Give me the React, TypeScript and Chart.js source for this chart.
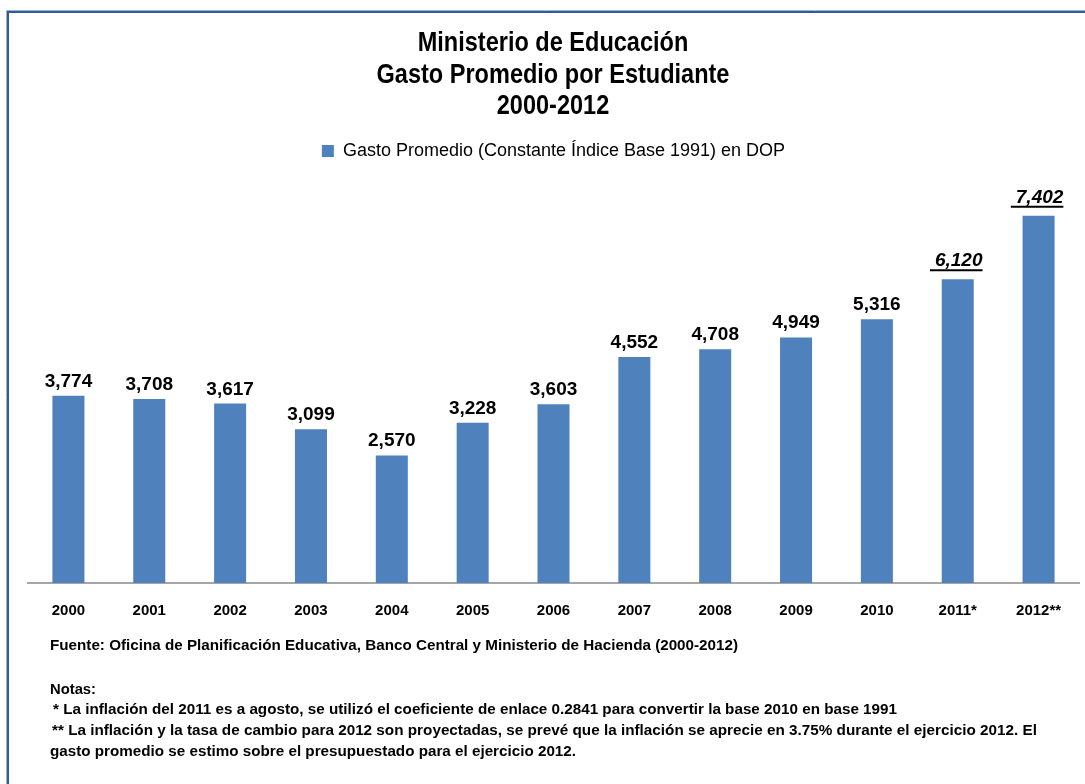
import { useEffect, useRef } from 'react';
import { Chart, registerables } from 'chart.js';

Chart.register(...registerables);

// ---- data ----
const categories = ['2000', '2001', '2002', '2003', '2004', '2005', '2006', '2007', '2008', '2009', '2010', '2011*', '2012**'];
const gastoPromedio = [3774, 3708, 3617, 3099, 2570, 3228, 3603, 4552, 4708, 4949, 5316, 6120, 7402];
const titleLines = ['Ministerio de Educación', 'Gasto Promedio por Estudiante', '2000-2012'];
const seriesName = 'Gasto Promedio (Constante Índice Base 1991) en DOP';
const sourceLine = 'Fuente: Oficina de Planificación Educativa, Banco Central y Ministerio de Hacienda (2000-2012)';
const noteLines = [
  'Notas:',
  '* La inflación del 2011 es a agosto, se utilizó el coeficiente de enlace 0.2841 para convertir la base 2010 en base 1991',
  '** La inflación y la tasa de cambio para 2012 son proyectadas, se prevé que la inflación se aprecie en 3.75% durante el ejercicio 2012. El',
  'gasto promedio se estimo sobre el presupuestado para el ejercicio 2012.',
];
const yAxisMax = 8000;

const SANS = "'Liberation Sans', Arial, sans-serif";
const BAR_COLOR = '#4F81BD';

const fmt = (v: number) => v.toLocaleString('en-US');
const isEstimate = (label: string) => label.includes('*');

const backgroundPlugin = {
  id: 'bgFrame',
  beforeDraw(chart: any) {
    const { ctx, width, height } = chart;
    ctx.save();
    ctx.fillStyle = '#ffffff';
    ctx.fillRect(0, 0, width, height);
    ctx.strokeStyle = '#9DB3D6';
    ctx.lineWidth = 1;
    ctx.beginPath();
    ctx.moveTo(6.5, height);
    ctx.lineTo(6.5, 10.5);
    ctx.lineTo(width, 10.5);
    ctx.stroke();
    ctx.strokeStyle = '#2F5B97';
    ctx.lineWidth = 2;
    ctx.beginPath();
    ctx.moveTo(8, height);
    ctx.lineTo(8, 12);
    ctx.lineTo(width, 12);
    ctx.stroke();
    ctx.restore();
  },
};

// Condensed bold title (Arial Narrow look)
const titlePlugin = {
  id: 'narrowTitle',
  afterDraw(chart: any) {
    const { ctx } = chart;
    ctx.save();
    ctx.fillStyle = '#000';
    ctx.textAlign = 'center';
    ctx.textBaseline = 'middle';
    ctx.font = `bold 28px ${SANS}`;
    const ys = [43, 75, 106];
    titleLines.forEach((line, i) => {
      const w = ctx.measureText(line).width;
      ctx.fillText(line, 553, ys[i], w * 0.84);
    });
    ctx.restore();
  },
};

const valueLabelPlugin = {
  id: 'valueLabels',
  afterDatasetsDraw(chart: any) {
    const { ctx } = chart;
    const meta = chart.getDatasetMeta(0);
    const labels = chart.data.labels as string[];
    const data = chart.data.datasets[0].data as number[];
    ctx.save();
    ctx.fillStyle = '#000';
    ctx.strokeStyle = '#000';
    ctx.textAlign = 'center';
    ctx.textBaseline = 'alphabetic';
    meta.data.forEach((bar: any, i: number) => {
      const text = fmt(data[i]);
      if (isEstimate(labels[i])) {
        ctx.font = `italic bold 19px ${SANS}`;
        const w = ctx.measureText(text).width;
        const baseY = bar.y - 13;
        ctx.fillText(text, bar.x + 1, baseY);
        ctx.lineWidth = 2;
        ctx.beginPath();
        ctx.moveTo(bar.x + 1 - w / 2 - 5, baseY + 4);
        ctx.lineTo(bar.x + 1 + w / 2, baseY + 4);
        ctx.stroke();
      } else {
        ctx.font = `bold 19px ${SANS}`;
        ctx.fillText(text, bar.x, bar.y - 9);
      }
    });
    ctx.restore();
  },
};

const footerPlugin = {
  id: 'footerNotes',
  afterDraw(chart: any) {
    const { ctx } = chart;
    ctx.save();
    ctx.fillStyle = '#000';
    ctx.textAlign = 'left';
    ctx.textBaseline = 'alphabetic';
    ctx.font = `bold 15.5px ${SANS}`;
    ctx.fillText(sourceLine, 50, 650, 688);
    const pos = [
      { x: 50, y: 694, w: 46 },
      { x: 53, y: 714, w: 844 },
      { x: 52, y: 735, w: 985 },
      { x: 50, y: 756, w: 526 },
    ];
    noteLines.forEach((line, i) => {
      ctx.fillText(line, pos[i].x, pos[i].y, pos[i].w);
    });
    ctx.restore();
  },
};

export default function App() {
  const ref = useRef<HTMLCanvasElement | null>(null);

  useEffect(() => {
    document.body.style.margin = '0';
    const canvas = ref.current;
    if (!canvas) return;
    const chart = new Chart(canvas, {
      type: 'bar',
      data: {
        labels: categories,
        datasets: [
          {
            label: seriesName,
            data: gastoPromedio,
            backgroundColor: BAR_COLOR,
            borderWidth: 0,
            categoryPercentage: 1,
            barPercentage: 0.396,
          },
        ],
      },
      options: {
        animation: false,
        responsive: false,
        devicePixelRatio: 1,
        layout: { padding: { left: 28, right: 6, top: 130, bottom: 0 } },
        plugins: {
          title: { display: false },
          subtitle: {
            display: true,
            text: '',
            weight: 500,
            font: { size: 1, lineHeight: 1 },
            padding: { top: 0, bottom: 15 },
          },
          legend: {
            display: true,
            position: 'top',
            labels: {
              boxWidth: 12,
              boxHeight: 12,
              color: '#000',
              font: { family: SANS, size: 18 },
              padding: 12,
            },
          },
          tooltip: { enabled: false },
        },
        scales: {
          x: {
            grid: { display: false, drawTicks: false },
            border: { display: true, color: '#A6A6A6', width: 2 },
            ticks: {
              color: '#000',
              font: { family: SANS, size: 15, weight: 'bold' },
              padding: 19,
              maxRotation: 0,
            },
            afterFit: (s: any) => {
              s.height = 201;
            },
          },
          y: {
            display: false,
            min: 0,
            max: yAxisMax,
          },
        },
      },
      plugins: [backgroundPlugin, titlePlugin, valueLabelPlugin, footerPlugin],
    });
    return () => chart.destroy();
  }, []);

  return (
    <div style={{ position: 'absolute', left: 0, top: 0, width: 1085, height: 784, background: '#fff' }}>
      <canvas ref={ref} width={1085} height={784} style={{ display: 'block' }} />
    </div>
  );
}
